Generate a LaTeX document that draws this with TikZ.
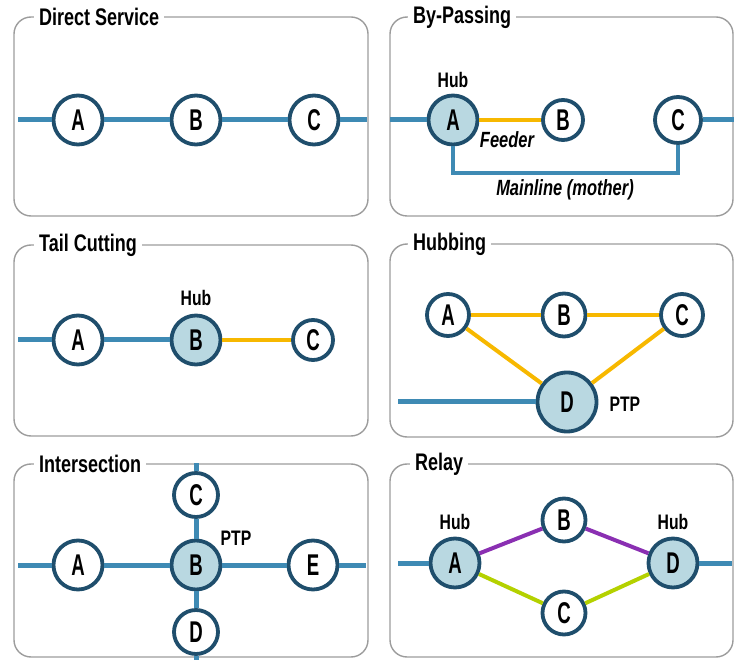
\documentclass[tikz,border=0pt]{standalone}
\usepackage{fontspec}
\setmainfont[FakeStretch=0.75]{Liberation Sans}
\newfontfamily\lettersfont[FakeStretch=0.62]{Liberation Sans}
\definecolor{framegray}{HTML}{9C9C9C}
\definecolor{routeblue}{HTML}{3E8AB4}
\definecolor{stopblue}{HTML}{1F4E6C}
\definecolor{hubfill}{HTML}{B9D8E1}
\definecolor{feedorange}{HTML}{F7B800}
\definecolor{relaypurple}{HTML}{8A2FB2}
\definecolor{relaygreen}{HTML}{B4D100}
\begin{document}
\begin{tikzpicture}[x=1pt,y=-1pt,
  frame/.style={draw=framegray, line width=1.4pt, rounded corners=17pt},
  title/.style={fill=white, anchor=west, inner xsep=5pt, inner ysep=1pt,
    font=\bfseries\fontsize{24}{26}\selectfont},
  route/.style={draw=routeblue, line width=5pt},
  feed/.style={draw=feedorange, line width=4pt},
  purple/.style={draw=relaypurple, line width=4pt},
  green/.style={draw=relaygreen, line width=4pt},
  stop/.style={circle, draw=stopblue, line width=3.8pt, fill=white, inner sep=0pt,
    minimum size=#1, font=\lettersfont\bfseries\fontsize{30}{32}\selectfont},
  stop/.default=49pt,
  hub/.style={stop=#1, fill=hubfill},
  hub/.default=49pt,
  note/.style={font=\bfseries\fontsize{21}{23}\selectfont},
  tag/.style={font=\bfseries\itshape\fontsize{22}{24}\selectfont}
]
\useasboundingbox (0,0) rectangle (734,660);

% ---------- panel frames and titles ----------
\draw[frame] (14,17) rectangle (368,216);
\draw[frame] (390,17) rectangle (733,216);
\draw[frame] (14,245) rectangle (368,436);
\draw[frame] (390,244) rectangle (733,437);
\draw[frame] (14,464) rectangle (368,657);
\draw[frame] (390,464) rectangle (733,657);
\node[title] (t1) at (34,17) {Direct Service};
\node[title] (t2) at (408,17) {By-Passing};
\node[title] (t3) at (34,245) {Tail Cutting};
\node[title] (t4) at (408,244) {Hubbing};
\node[title] (t5) at (34,464) {Intersection};
\node[title] (t6) at (410,464) {Relay};

% ---------- Direct Service ----------
\node[stop] (A1) at (78,120) {A};
\node[stop] (B1) at (196,120) {B};
\node[stop] (C1) at (314,120) {C};
\coordinate (w1) at (18,120);
\coordinate (e1) at (367,120);
\draw[route] (w1) -- (A1) -- (B1) -- (C1) -- (e1);

% ---------- By-Passing ----------
\node[hub] (A2) at (453,120) {A};
\node[stop=40pt] (B2) at (563,120) {B};
\node[stop=46pt] (C2) at (678,120) {C};
\node[note] (h2) at (453,80) {Hub};
\coordinate (w2) at (390,120);
\coordinate (e2) at (734,120);
\coordinate (m2a) at (453,173);
\coordinate (m2b) at (678,173);
\draw[route] (w2) -- (A2);
\draw[route] (C2) -- (e2);
\draw[feed] (A2) -- (B2);
\draw[route, line width=4.5pt] (A2) -- (m2a) -- (m2b) -- (C2);
\node[tag] (f2) at (507,140) {Feeder};
\node[tag] (ml2) at (565,190) {Mainline (mother)};

% ---------- Tail Cutting ----------
\node[stop] (A3) at (78,340) {A};
\node[hub] (B3) at (196,340) {B};
\node[stop=40pt] (C3) at (313,340) {C};
\node[note] (h3) at (196,298) {Hub};
\coordinate (w3) at (18,340);
\draw[route] (w3) -- (A3) -- (B3);
\draw[feed] (B3) -- (C3);

% ---------- Hubbing ----------
\node[stop=42pt] (A4) at (448,315) {A};
\node[stop=43pt] (B4) at (564,315) {B};
\node[stop=42pt] (C4) at (682,315) {C};
\node[hub=59pt] (D4) at (567,402) {D};
\node[note, anchor=west] (p4) at (606,404) {PTP};
\coordinate (w4) at (398,402);
\draw[route] (w4) -- (D4);
\draw[feed] (A4) -- (B4) -- (C4);
\draw[feed] (A4) -- (D4);
\draw[feed] (C4) -- (D4);

% ---------- Intersection ----------
\node[stop] (A5) at (78,565) {A};
\node[hub] (B5) at (196,565) {B};
\node[stop] (E5) at (313,565) {E};
\node[stop=44pt] (C5) at (196,495) {C};
\node[stop=44pt] (D5) at (196,632) {D};
\node[note] (p5) at (236,538) {PTP};
\coordinate (w5) at (18,565);
\coordinate (e5) at (366,565);
\coordinate (n5) at (196,463);
\coordinate (s5) at (196,660);
\draw[route] (w5) -- (A5) -- (B5) -- (E5) -- (e5);
\draw[route] (n5) -- (C5) -- (B5) -- (D5) -- (s5);

% ---------- Relay ----------
\node[hub] (A6) at (455,563) {A};
\node[hub] (D6) at (673,563) {D};
\node[stop=43pt] (B6) at (564,520) {B};
\node[stop=43pt] (C6) at (564,613) {C};
\node[note] (h6a) at (455,522) {Hub};
\node[note] (h6d) at (673,522) {Hub};
\coordinate (w6) at (398,563);
\coordinate (e6) at (732,563);
\draw[route] (w6) -- (A6);
\draw[route] (D6) -- (e6);
\draw[purple] (A6) -- (B6) -- (D6);
\draw[green] (A6) -- (C6) -- (D6);
\end{tikzpicture}
\end{document}
